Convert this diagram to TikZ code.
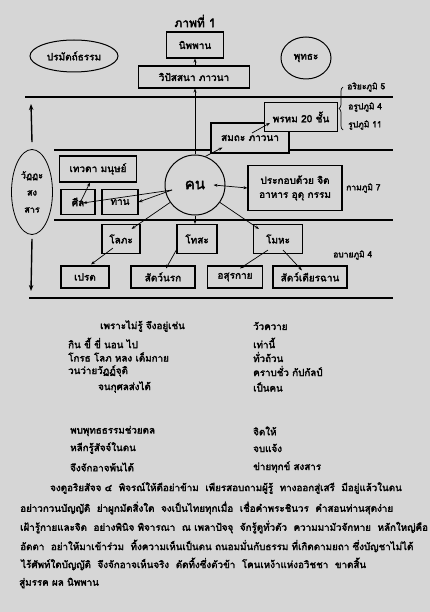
\documentclass[tikz,border=0pt]{standalone}
\usepackage{fontspec}
\newfontfamily\thai[Script=Thai, BoldFont={Loma}, BoldFeatures={FakeBold=2.4}]{Loma}
\usepackage{tikz}
\usetikzlibrary{arrows.meta,positioning,shapes.geometric,calc,decorations.pathreplacing}
\definecolor{paper}{RGB}{214,214,214}

\begin{document}
\begin{tikzpicture}[x=1pt, y=-1pt,
  box/.style={draw, line width=1.1pt, fill=paper, inner sep=1pt, align=center, font=\thai\bfseries\fontsize{10}{14}\selectfont},
  bubble/.style={draw, ellipse, line width=1pt, fill=paper, inner sep=0pt, align=center, font=\thai\bfseries\fontsize{10}{14}\selectfont},
  arrow/.style={-{Stealth[length=4pt,width=3pt]}, line width=0.7pt},
  bigarrow/.style={-{Stealth[length=6pt,width=4.5pt]}, line width=1.4pt},
  level/.style={line width=1.3pt},
  realm/.style={anchor=west, inner sep=0pt, font=\thai\bfseries\fontsize{8.5}{10}\selectfont},
  verse/.style={anchor=west, inner sep=0pt, font=\thai\bfseries\fontsize{9.8}{11}\selectfont},
]
\fill[paper] (0,0) rectangle (430,612);

\node[font=\thai\bfseries\fontsize{12}{14}\selectfont] (title) at (195,21) {ภาพที่ 1};
\node[box, minimum width=57, minimum height=26] (nibbana) at (195,45) {นิพพาน};
\node[box, minimum width=111, minimum height=22] (vipassana) at (194,77) {วิปัสสนา ภาวนา};
\node[bubble, minimum width=88, minimum height=32] (paramattha) at (74,56) {ปรมัตถ์ธรรม};
\node[bubble, minimum width=50, minimum height=42] (buddha) at (306,58) {พุทธะ};

\draw[level] (25,97) -- (393,97);
\draw[level] (54,150) -- (393,150);
\draw[level] (54,220) -- (393,220);
\draw[level, line width=1.6pt] (29,298) -- (393,298);

\node[box, minimum width=78, minimum height=30, text depth=-5pt] (samatha) at (250,138) {สมถะ ภาวนา};
\node[box, minimum width=73, minimum height=29] (brahma) at (301,117) {พรหม 20 ชั้น};
\node[bubble, circle, minimum size=60] (kon) at (195,185) {\fontsize{15}{17}\selectfont คน};
\node[box, minimum width=94, minimum height=45] (prakob) at (295,188) {ประกอบด้วย จิต\\อาหาร อุตุ กรรม};
\node[box, minimum width=77, minimum height=26] (tewada) at (98,169) {เทวดา มนุษย์};
\node[box, minimum width=34, minimum height=25] (sila) at (78,202) {ศีล};
\node[box, minimum width=36, minimum height=25] (tana) at (120,202) {ทาน};
\node[box, minimum width=38, minimum height=29] (lobha) at (121,239) {โลภะ};
\node[box, minimum width=40, minimum height=29] (tosa) at (197,239) {โทสะ};
\node[box, minimum width=49, minimum height=29] (moha) at (278,239) {โมหะ};
\node[box, minimum width=48, minimum height=22] (pret) at (85,277) {เปรต};
\node[box, minimum width=64, minimum height=22] (narok) at (163,277) {สัตว์นรก};
\node[box, minimum width=55, minimum height=22] (asura) at (235,277) {อสุรกาย};
\node[box, minimum width=74, minimum height=22] (dierachan) at (310,277) {สัตว์เดียรฉาน};
\node[bubble, line width=0.8pt, minimum width=41, minimum height=85, font=\thai\bfseries\fontsize{9}{17}\selectfont] (samsara) at (32,192) {วัฏฏะ\\สง\\สาร};

\node[realm] (ariya) at (347,87) {อริยะภูมิ 5};
\node[realm] (arupa) at (348,107) {อรูปภูมิ 4};
\node[realm] (rupa) at (348,125) {รูปภูมิ 11};
\node[realm] (kama) at (346,188) {กามภูมิ 7};
\node[realm] (apaya) at (333,255) {อบายภูมิ 4};
\draw[line width=0.7pt, decorate, decoration={brace, amplitude=4pt}] (343,130) -- (343,87);

\coordinate (upend) at (31,104);
\coordinate (downend) at (31,291);
\draw[bigarrow] ($(samsara.north)+(0,-7)$) -- (upend);
\draw[bigarrow] ($(samsara.south)+(0,4)$) -- (downend);

\draw[arrow] (vipassana.north -| nibbana.south) -- (nibbana.south);
\draw[arrow] (kon.north) -- (kon.north |- vipassana.south);
\draw[arrow] (kon.70) -- ($(samatha.south west)+(12,-6)$);
\draw[arrow] ($(samatha.center)+(2,-5)$) -- ($(brahma.west)+(6,6)$);
\draw[{Stealth[length=4pt,width=3pt]}-{Stealth[length=4pt,width=3pt]}, line width=0.7pt] ($(kon.east)+(-12,0)$) -- (prakob.west);
\draw[arrow] ($(kon.center)+(-23,5)$) -- ($(sila.center)+(5,1)$);
\draw[arrow] ($(kon.center)+(-23,5)$) -- (tana.east);
\draw[arrow] ($(sila.center)+(2,1)$) -- ($(tewada.south)+(-8,0)$);
\draw[arrow] (kon.215) -- ($(lobha.north east)+(-9,5)$);
\draw[arrow] (kon.south) -- (kon.south |- tosa.north);
\draw[arrow] (kon.-35) -- ($(moha.north west)+(6,5)$);
\draw[arrow] ($(lobha.south)+(-8,-6)$) -- ($(pret.north)+(6,-1)$);
\draw[arrow] ($(tosa.south west)+(1,-6)$) -- ($(narok.north)+(3,3)$);
\draw[arrow] ($(moha.south)+(-10,-4)$) -- ($(asura.north)+(5,3)$);
\draw[arrow] ($(moha.south)+(5,-4)$) -- ($(dierachan.north)+(-8,5)$);

\node[verse] (v1) at (100,326) {เพราะไม่รู้ จึงอยู่เช่น};
\node[verse] (v2) at (68,343) {กิน ขี้ ขี่ นอน ไป};
\node[verse] (v3) at (68,357) {โกรธ โลภ หลง เต็มกาย};
\node[verse] (v4) at (68,371) {วนว่ายวัฏฏ์จุติ};
\node[verse] (v5) at (98,387) {จนกุศลส่งได้};
\node[verse] (v6) at (70,431) {พบพุทธธรรมช่วยดล};
\node[verse] (v7) at (70,448) {หลีกรู้สัจจ์ในตน};
\node[verse] (v8) at (70,467) {จึงจักอาจพ้นได้};
\node[verse] (w1) at (253,326) {วัวควาย};
\node[verse] (w2) at (253,343) {เท่านี้};
\node[verse] (w3) at (253,357) {ทั่วถ้วน};
\node[verse] (w4) at (253,371) {คราบชั่ว กัปกัลป์};
\node[verse] (w5) at (253,387) {เป็นคน};
\node[verse] (w6) at (253,431) {จิตให้};
\node[verse] (w7) at (253,448) {จบแจ้ง};
\node[verse] (w8) at (253,467) {ข่ายทุกข์ สงสาร};

\node[verse] (p1) at (50,488) {จงดูอริยสัจจ ๔ ~พิจรณ์ให้ดีอย่าข้าม ~เพียรสอบถามผู้รู้ ~ทางออกสู่เสรี ~มีอยู่แล้วในตน};
\node[verse] (p2) at (20,508) {อย่าวกวนบัญญัติ ~ย่าผูกมัดสิ่งใด ~จงเป็นไทยทุกเมื่อ ~เชื่อคำพระชินวร ~คำสอนท่านสุดง่าย};
\node[verse] (p3) at (20,527) {เฝ้ารู้กายและจิต ~อย่างพินิจ พิจารณา ~ณ เพลาปัจจุ ~จักรู้ดูทั่วตัว ~ความมามัวจักหาย ~หลักใหญ่คือ};
\node[verse] (p4) at (20,546) {อัตตา ~อย่าให้มาเข้าร่วม ~ทิ้งความเห็นเป็นตน ถนอมมั่นกับธรรม ที่เกิดตามยถา ซึ่งบัญชาไม่ได้};
\node[verse] (p5) at (21,564) {ไร้ศัพท์ใดบัญญัติ ~จึงจักอาจเห็นจริง ~ตัดทิ้งซึ่งตัวข้า ~โคนเหง้าแห่งอวิชชา ~ขาดสิ้น};
\node[verse] (p6) at (19,583) {สู่มรรค ผล นิพพาน};
\end{tikzpicture}
\end{document}
